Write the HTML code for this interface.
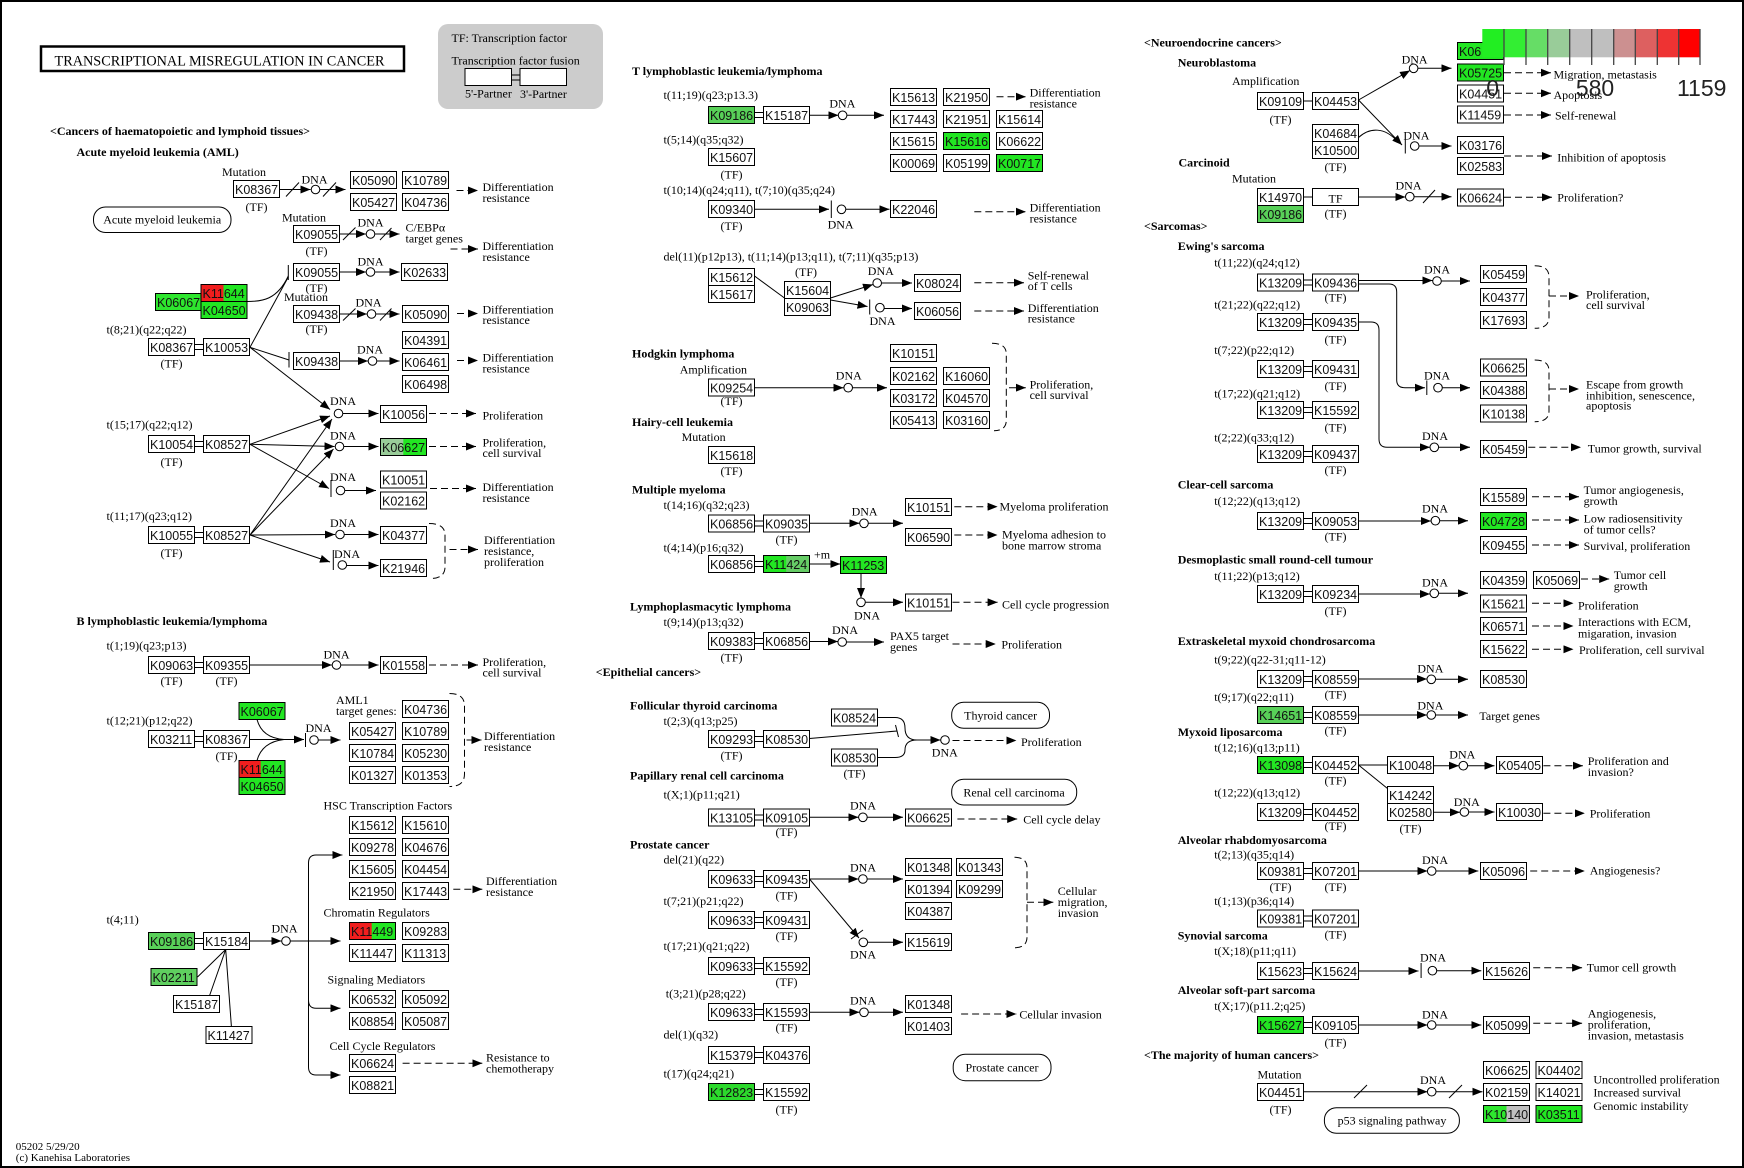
<!DOCTYPE html>
<html><head><meta charset="utf-8"><style>
html,body{margin:0;padding:0;background:#fff}
svg{display:block}
.l{stroke:#000;stroke-width:1;fill:none}
.d{stroke:#000;stroke-width:1;fill:none;stroke-dasharray:7 4}
.b{fill:#fff;stroke:#000;stroke-width:1}
.k{font-family:"Liberation Sans",sans-serif;font-size:12.5px;fill:#111}
.t{font-family:"Liberation Serif",serif;font-size:12px;fill:#000}
.h{font-family:"Liberation Serif",serif;font-size:12px;font-weight:bold;fill:#000}
.c{text-anchor:middle}
circle{fill:#fff;stroke:#000;stroke-width:1}
</style></head><body>
<svg width="1744" height="1168" viewBox="0 0 1744 1168" xmlns="http://www.w3.org/2000/svg">
<defs><marker id="a" viewBox="0 0 10 8" refX="10" refY="4" markerWidth="10" markerHeight="8" markerUnits="userSpaceOnUse" orient="auto"><path d="M0,0L10,4L0,8z" fill="#000"/></marker></defs>
<rect x="1" y="1" width="1742" height="1166" fill="none" stroke="#000" stroke-width="2"/>

<!-- Title & legend -->
<rect x="41" y="46.5" width="363" height="24.5" fill="none" stroke="#000" stroke-width="2.5"/>
<text x="54.5" y="65.5" style="font-family:'Liberation Serif',serif;font-size:15px" textLength="330" lengthAdjust="spacingAndGlyphs">TRANSCRIPTIONAL MISREGULATION  IN  CANCER</text>
<rect x="438" y="24" width="165" height="85" rx="10" fill="#cccccc"/>
<text class="t" x="451.5" y="42">TF: Transcription factor</text>
<text class="t" x="451.5" y="64.5">Transcription factor fusion</text>
<rect class="b" x="465" y="68.5" width="46.5" height="17"/><rect class="b" x="520" y="68.5" width="46.5" height="17"/>
<path class="l" d="M511.5,75h8.5M511.5,80h8.5"/>
<text class="t" x="465" y="97.5">5'-Partner</text><text class="t" x="520" y="98">3'-Partner</text>

<!-- Left headers -->
<text class="h" x="50" y="135">&lt;Cancers of haematopoietic and lymphoid tissues&gt;</text>
<text class="h" x="76.5" y="156">Acute myeloid leukemia (AML)</text>

<!-- AML -->
<text class="t" x="222" y="176">Mutation</text>
<rect class="b" x="233.5" y="180.5" width="46" height="17"/><text class="k" x="235" y="194">K08367</text>
<text class="t c" x="256.5" y="211">(TF)</text>
<path class="l" d="M279.5,189.5L310.5,189.5" marker-end="url(#a)"/><path class="l" d="M286,196.5L299,182.5"/>
<circle cx="315.5" cy="189.5" r="4.3"/><text class="t" x="301.5" y="183.5">DNA</text>
<path class="l" d="M320,189.5L345.5,189.5" marker-end="url(#a)"/><path class="l" d="M323,196.5L336,182.5"/>
<rect class="b" x="350.5" y="171.5" width="46" height="17"/><text class="k" x="352" y="185">K05090</text>
<rect class="b" x="402.5" y="171.5" width="46" height="17"/><text class="k" x="404" y="185">K10789</text>
<rect class="b" x="350.5" y="193.5" width="46" height="17"/><text class="k" x="352" y="207">K05427</text>
<rect class="b" x="402.5" y="193.5" width="46" height="17"/><text class="k" x="404" y="207">K04736</text>
<path class="d" d="M456.5,190.5L478,190.5" marker-end="url(#a)"/>
<text class="t" x="482.5" y="191">Differentiation</text><text class="t" x="482.5" y="202">resistance</text>

<rect x="93.5" y="207" width="137.5" height="25.5" rx="12" fill="#fff" stroke="#000"/>
<text class="t c" x="162.2" y="223.5">Acute myeloid leukemia</text>

<text class="t" x="282" y="221.5">Mutation</text>
<rect class="b" x="293.5" y="225.5" width="46" height="17"/><text class="k" x="295" y="239">K09055</text>
<text class="t c" x="316.5" y="255">(TF)</text>
<path class="l" d="M339.5,234L366,234" marker-end="url(#a)"/><path class="l" d="M343,240L355.5,227.5"/>
<circle cx="370.5" cy="234" r="4.3"/><text class="t" x="357.5" y="226.5">DNA</text>
<path class="l" d="M375,234L399.5,234" marker-end="url(#a)"/><path class="l" d="M380,240L391.5,228"/>
<text class="t" x="405.5" y="231.5">C/EBPα</text><text class="t" x="405.5" y="242.5">target genes</text>
<path class="d" d="M450.5,249L478,249" marker-end="url(#a)"/>
<text class="t" x="482.5" y="250">Differentiation</text><text class="t" x="482.5" y="261">resistance</text>

<path class="l" d="M288.3,265V280"/>
<rect class="b" x="293.5" y="263.5" width="46" height="17"/><text class="k" x="295" y="277">K09055</text>
<text class="t c" x="316.5" y="292">(TF)</text>
<path class="l" d="M339.5,272L366,272" marker-end="url(#a)"/>
<circle cx="370.5" cy="272" r="4.3"/><text class="t" x="357.5" y="265.5">DNA</text>
<path class="l" d="M375,272L399.5,272" marker-end="url(#a)"/>
<rect class="b" x="401.5" y="263.5" width="46" height="17"/><text class="k" x="403" y="277">K02633</text>

<rect class="b" x="155.5" y="293.5" width="45.5" height="17" style="fill:#2ee62e"/><text class="k" x="157" y="307">K06067</text>
<rect class="b" x="201" y="284.5" width="46" height="17" style="fill:#22e622"/><rect x="201.5" y="285" width="22" height="16" fill="#f01e1e"/><text class="k" x="202.5" y="298">K11644</text>
<rect class="b" x="201" y="301.5" width="46" height="17" style="fill:#22e622"/><text class="k" x="202.5" y="315">K04650</text>
<path class="l" d="M247.3,301.5C262,301.5 277,300 288.3,276"/>
<path class="l" d="M250,347.3L288.3,277"/>

<text class="t" x="284" y="301">Mutation</text>
<rect class="b" x="293.5" y="305.5" width="46" height="17"/><text class="k" x="295" y="319">K09438</text>
<text class="t c" x="316.5" y="333">(TF)</text>
<path class="l" d="M339.5,314L367,314" marker-end="url(#a)"/><path class="l" d="M343,320.5L355.5,308.5"/>
<circle cx="371.5" cy="314" r="4.3"/><text class="t" x="355.5" y="306.5">DNA</text>
<path class="l" d="M376,314L399.5,314" marker-end="url(#a)"/><path class="l" d="M380,320.5L391.5,308.5"/>
<rect class="b" x="402.5" y="305.5" width="46" height="17"/><text class="k" x="404" y="319">K05090</text>
<path class="d" d="M457,313.5L478,313.5" marker-end="url(#a)"/>
<text class="t" x="482.5" y="313.5">Differentiation</text><text class="t" x="482.5" y="324">resistance</text>

<text class="t" x="106.5" y="333.5">t(8;21)(q22;q22)</text>
<rect class="b" x="148.5" y="338.5" width="46" height="17"/><text class="k" x="150" y="352">K08367</text>
<rect class="b" x="203.5" y="338.5" width="46" height="17"/><text class="k" x="205" y="352">K10053</text>
<path class="l" d="M194.5,344.5h9M194.5,349.5h9"/>
<text class="t c" x="171.5" y="367.5">(TF)</text>
<path class="l" d="M289,352V367.5"/><path class="l" d="M250,347.3L289,360"/>
<rect class="b" x="293.5" y="352.5" width="46" height="17"/><text class="k" x="295" y="366">K09438</text>
<path class="l" d="M339.5,361L368,361" marker-end="url(#a)"/>
<circle cx="372.5" cy="361" r="4.3"/><text class="t" x="357" y="353.5">DNA</text>
<path class="l" d="M377,361L399.5,361" marker-end="url(#a)"/>
<rect class="b" x="402.5" y="331.5" width="46" height="17"/><text class="k" x="404" y="345">K04391</text>
<rect class="b" x="402.5" y="353.5" width="46" height="17"/><text class="k" x="404" y="367">K06461</text>
<rect class="b" x="402.5" y="375.5" width="46" height="17"/><text class="k" x="404" y="389">K06498</text>
<path class="d" d="M457,360.5L478,360.5" marker-end="url(#a)"/>
<text class="t" x="482.5" y="361.5">Differentiation</text><text class="t" x="482.5" y="372.5">resistance</text>

<!-- fan -->
<path class="l" d="M250,347.3L330,409.5" marker-end="url(#a)"/>
<path class="l" d="M250,444.3L330,416" marker-end="url(#a)"/>
<path class="l" d="M250,444.3L334.5,446.5" marker-end="url(#a)"/>
<path class="l" d="M250,444.3L329,488.5" marker-end="url(#a)"/>
<path class="l" d="M331,480V497"/>
<path class="l" d="M250,535L332,419" marker-end="url(#a)"/>
<path class="l" d="M250,535L333.5,449" marker-end="url(#a)"/>
<path class="l" d="M250,535L335,534.5" marker-end="url(#a)"/>
<path class="l" d="M250,535L330,562" marker-end="url(#a)"/>
<path class="l" d="M333.3,550V570"/>
<circle cx="338.5" cy="413.5" r="4.3"/><text class="t" x="330" y="405">DNA</text>
<circle cx="339.5" cy="446.5" r="4.3"/><text class="t" x="330" y="439.5">DNA</text>
<circle cx="340.5" cy="490.5" r="4.3"/><text class="t" x="330" y="481">DNA</text>
<circle cx="340" cy="534.5" r="4.3"/><text class="t" x="330" y="527">DNA</text>
<circle cx="342.3" cy="565" r="4.3"/><text class="t" x="334" y="558">DNA</text>
<path class="l" d="M343,413.5L378.5,413.5" marker-end="url(#a)"/>
<path class="l" d="M344,446.5L378.5,446.5" marker-end="url(#a)"/>
<path class="l" d="M345,490.5L376,490.5" marker-end="url(#a)"/>
<path class="l" d="M344.5,534.5L378.5,534.5" marker-end="url(#a)"/>
<path class="l" d="M347,565.5L378.5,565.5" marker-end="url(#a)"/>
<rect class="b" x="380.5" y="405.5" width="46" height="17"/><text class="k" x="382" y="419">K10056</text>
<rect class="b" x="380.5" y="438.5" width="46" height="17" style="fill:#22e622"/><rect x="381" y="439" width="22.3" height="16" fill="#99cc99"/><text class="k" x="382" y="452">K06627</text>
<rect class="b" x="380.5" y="471" width="46" height="17"/><text class="k" x="382" y="484.5">K10051</text>
<rect class="b" x="380.5" y="492" width="46" height="17"/><text class="k" x="382" y="505.5">K02162</text>
<rect class="b" x="380.5" y="526.5" width="46" height="17"/><text class="k" x="382" y="540">K04377</text>
<rect class="b" x="380.5" y="559.5" width="46" height="17"/><text class="k" x="382" y="573">K21946</text>
<path class="d" d="M429,413.5L476,413.5" marker-end="url(#a)"/>
<text class="t" x="482.5" y="419.5">Proliferation</text>
<path class="d" d="M429,446.5L476,446.5" marker-end="url(#a)"/>
<text class="t" x="482.5" y="446.5">Proliferation,</text><text class="t" x="482.5" y="457">cell survival</text>
<path class="d" d="M430,488.5L476,488.5" marker-end="url(#a)"/>
<text class="t" x="482.5" y="491">Differentiation</text><text class="t" x="482.5" y="502">resistance</text>
<path class="d" d="M429,523.5Q445,523.5 445,535V567Q445,578.5 430,578.5"/>
<path class="d" d="M449.5,549.5L478,549.5" marker-end="url(#a)"/>
<text class="t" x="484" y="544">Differentiation</text><text class="t" x="484" y="555">resistance,</text><text class="t" x="484" y="566">proliferation</text>

<text class="t" x="106.5" y="428.5">t(15;17)(q22;q12)</text>
<rect class="b" x="148.5" y="435.5" width="46" height="17"/><text class="k" x="150" y="449">K10054</text>
<rect class="b" x="203.5" y="435.5" width="46" height="17"/><text class="k" x="205" y="449">K08527</text>
<path class="l" d="M194.5,441.5h9M194.5,446.5h9"/>
<text class="t c" x="171.5" y="466">(TF)</text>
<text class="t" x="106.5" y="520">t(11;17)(q23;q12)</text>
<rect class="b" x="148.5" y="526.5" width="46" height="17"/><text class="k" x="150" y="540">K10055</text>
<rect class="b" x="203.5" y="526.5" width="46" height="17"/><text class="k" x="205" y="540">K08527</text>
<path class="l" d="M194.5,532.5h9M194.5,537.5h9"/>
<text class="t c" x="171.5" y="557">(TF)</text>

<!-- B lymphoblastic -->
<text class="h" x="76.5" y="625">B lymphoblastic leukemia/lymphoma</text>
<text class="t" x="106.5" y="649.5">t(1;19)(q23;p13)</text>
<rect class="b" x="148.5" y="656.5" width="46" height="17"/><text class="k" x="150" y="670">K09063</text>
<rect class="b" x="203.5" y="656.5" width="46" height="17"/><text class="k" x="205" y="670">K09355</text>
<path class="l" d="M194.5,662.5h9M194.5,667.5h9"/>
<text class="t c" x="171.5" y="685">(TF)</text><text class="t c" x="226.5" y="685">(TF)</text>
<path class="l" d="M249.5,665L332,665" marker-end="url(#a)"/>
<circle cx="336.5" cy="665" r="4.3"/><text class="t" x="323.5" y="658.5">DNA</text>
<path class="l" d="M341,665L378.5,665" marker-end="url(#a)"/>
<rect class="b" x="380.5" y="656.5" width="46" height="17"/><text class="k" x="382" y="670">K01558</text>
<path class="d" d="M429,665L478,665" marker-end="url(#a)"/>
<text class="t" x="482.5" y="666">Proliferation,</text><text class="t" x="482.5" y="676.5">cell survival</text>

<text class="t" x="106.5" y="724.5">t(12;21)(p12;q22)</text>
<rect class="b" x="148.5" y="730.5" width="46" height="17"/><text class="k" x="150" y="744">K03211</text>
<rect class="b" x="203.5" y="730.5" width="46" height="17"/><text class="k" x="205" y="744">K08367</text>
<path class="l" d="M194.5,736.5h9M194.5,741.5h9"/>
<text class="t c" x="226.5" y="760">(TF)</text>
<rect class="b" x="239" y="702.5" width="46" height="17" style="fill:#22e622"/><text class="k" x="240.5" y="716">K06067</text>
<rect class="b" x="239" y="760.5" width="46" height="17" style="fill:#22e622"/><rect x="239.5" y="761" width="21.2" height="16" fill="#f01e1e"/><text class="k" x="240.5" y="774">K11644</text>
<rect class="b" x="239" y="777.5" width="46" height="17" style="fill:#22e622"/><text class="k" x="240.5" y="791">K04650</text>
<path class="l" d="M257,719.5Q262,738 284,739.5M257,760.5Q262,742 284,739.5"/>
<path class="l" d="M249.5,739.5L304,739.5" marker-end="url(#a)"/>
<path class="l" d="M305.5,733V747"/>
<circle cx="314" cy="740" r="4.3"/><text class="t" x="305.5" y="732">DNA</text>
<path class="l" d="M318.5,740L340.5,740" marker-end="url(#a)"/>
<text class="t" x="336" y="704">AML1</text><text class="t" x="336" y="715">target genes:</text>
<rect class="b" x="402.5" y="700.5" width="46" height="17"/><text class="k" x="404" y="714">K04736</text>
<rect class="b" x="349.5" y="722.5" width="46" height="17"/><text class="k" x="351" y="736">K05427</text>
<rect class="b" x="402.5" y="722.5" width="46" height="17"/><text class="k" x="404" y="736">K10789</text>
<rect class="b" x="349.5" y="744.5" width="46" height="17"/><text class="k" x="351" y="758">K10784</text>
<rect class="b" x="402.5" y="744.5" width="46" height="17"/><text class="k" x="404" y="758">K05230</text>
<rect class="b" x="349.5" y="766.5" width="46" height="17"/><text class="k" x="351" y="780">K01327</text>
<rect class="b" x="402.5" y="766.5" width="46" height="17"/><text class="k" x="404" y="780">K01353</text>
<path class="d" d="M449.5,693.5Q464.5,693.5 464.5,706V774Q464.5,786.5 449.5,786.5"/>
<path class="l" d="M466.5,740L481.5,740" marker-end="url(#a)"/>
<text class="t" x="484" y="740">Differentiation</text><text class="t" x="484" y="751">resistance</text>

<!-- t(4;11) -->
<text class="t" x="323.5" y="809.5">HSC Transcription Factors</text>
<rect class="b" x="349.5" y="816.5" width="46" height="17"/><text class="k" x="351" y="830">K15612</text>
<rect class="b" x="402.5" y="816.5" width="46" height="17"/><text class="k" x="404" y="830">K15610</text>
<rect class="b" x="349.5" y="838.5" width="46" height="17"/><text class="k" x="351" y="852">K09278</text>
<rect class="b" x="402.5" y="838.5" width="46" height="17"/><text class="k" x="404" y="852">K04676</text>
<rect class="b" x="349.5" y="860.5" width="46" height="17"/><text class="k" x="351" y="874">K15605</text>
<rect class="b" x="402.5" y="860.5" width="46" height="17"/><text class="k" x="404" y="874">K04454</text>
<rect class="b" x="349.5" y="882.5" width="46" height="17"/><text class="k" x="351" y="896">K21950</text>
<rect class="b" x="402.5" y="882.5" width="46" height="17"/><text class="k" x="404" y="896">K17443</text>
<path class="d" d="M453.3,889.3L482.3,889.3" marker-end="url(#a)"/>
<text class="t" x="486" y="885">Differentiation</text><text class="t" x="486" y="896">resistance</text>
<text class="t" x="323.5" y="916.5">Chromatin Regulators</text>
<rect class="b" x="349.5" y="922.5" width="46" height="17" style="fill:#22e622"/><rect x="350" y="923" width="21.7" height="16" fill="#f01e1e"/><text class="k" x="351" y="936">K11449</text>
<rect class="b" x="402.5" y="922.5" width="46" height="17"/><text class="k" x="404" y="936">K09283</text>
<rect class="b" x="349.5" y="944.5" width="46" height="17"/><text class="k" x="351" y="958">K11447</text>
<rect class="b" x="402.5" y="944.5" width="46" height="17"/><text class="k" x="404" y="958">K11313</text>
<text class="t" x="327.5" y="983.5">Signaling Mediators</text>
<rect class="b" x="349.5" y="990.5" width="46" height="17"/><text class="k" x="351" y="1004">K06532</text>
<rect class="b" x="402.5" y="990.5" width="46" height="17"/><text class="k" x="404" y="1004">K05092</text>
<rect class="b" x="349.5" y="1012.5" width="46" height="17"/><text class="k" x="351" y="1026">K08854</text>
<rect class="b" x="402.5" y="1012.5" width="46" height="17"/><text class="k" x="404" y="1026">K05087</text>
<text class="t" x="329.5" y="1050">Cell Cycle Regulators</text>
<rect class="b" x="349.5" y="1054.5" width="46" height="17"/><text class="k" x="351" y="1068">K06624</text>
<rect class="b" x="349.5" y="1076.5" width="46" height="17"/><text class="k" x="351" y="1090">K08821</text>
<path class="d" d="M402.6,1063.3L482.3,1063.3" marker-end="url(#a)"/>
<text class="t" x="486" y="1061.5">Resistance to</text><text class="t" x="486" y="1072.5">chemotherapy</text>

<text class="t" x="106.5" y="923.5">t(4;11)</text>
<rect class="b" x="148.5" y="932.5" width="46" height="17" style="fill:#58d058"/><text class="k" x="150" y="946">K09186</text>
<rect class="b" x="203.5" y="932.5" width="46" height="17"/><text class="k" x="205" y="946">K15184</text>
<path class="l" d="M194.5,938.5h9M194.5,943.5h9"/>
<path class="l" d="M249.5,941L281.5,941" marker-end="url(#a)"/>
<circle cx="286" cy="941" r="4.3"/><text class="t" x="271.5" y="932.5">DNA</text>
<path class="l" d="M290.5,941L340.5,941" marker-end="url(#a)"/>
<path class="l" d="M308.5,941V863Q308.5,855 316,855L342.4,855" marker-end="url(#a)"/>
<path class="l" d="M308.5,941V1067Q308.5,1075 316,1075L340.5,1075" marker-end="url(#a)"/>
<path class="l" d="M308.5,1000Q308.5,1008.3 316,1008.3L340.5,1008.3" marker-end="url(#a)"/>
<rect class="b" x="151" y="968.5" width="46" height="17" style="fill:#5fcf5f"/><text class="k" x="152.5" y="982">K02211</text>
<rect class="b" x="173.5" y="995.5" width="46" height="17"/><text class="k" x="175" y="1009">K15187</text>
<rect class="b" x="206" y="1026.5" width="46" height="17"/><text class="k" x="207.5" y="1040">K11427</text>
<path class="l" d="M225.7,949.5L197.5,977M225.7,949.5L209.6,995.5M225.7,949.5L231.4,1026.5"/>

<text class="t" x="15.8" y="1150" style="font-size:11px">05202 5/29/20</text>
<text class="t" x="15.8" y="1161" style="font-size:11px">(c) Kanehisa Laboratories</text>

<!-- MIDDLE -->
<text class="h" x="632" y="75">T lymphoblastic leukemia/lymphoma</text>
<text class="t" x="663.5" y="99">t(11;19)(q23;p13.3)</text>
<rect class="b" x="708.5" y="106.5" width="46" height="17" style="fill:#58d058"/><text class="k" x="710" y="120">K09186</text>
<rect class="b" x="763.5" y="106.5" width="46" height="17"/><text class="k" x="765" y="120">K15187</text>
<path class="l" d="M754.5,112.5h9M754.5,117.5h9"/>
<path class="l" d="M809.5,115.3L838.5,115.3" marker-end="url(#a)"/>
<circle cx="842.6" cy="115.3" r="4.3"/><text class="t" x="829.4" y="107.5">DNA</text>
<path class="l" d="M847,115.3L884,115.3" marker-end="url(#a)"/>
<rect class="b" x="890.5" y="88.5" width="46" height="17"/><text class="k" x="892" y="102">K15613</text>
<rect class="b" x="943.5" y="88.5" width="46" height="17"/><text class="k" x="945" y="102">K21950</text>
<rect class="b" x="890.5" y="110.5" width="46" height="17"/><text class="k" x="892" y="124">K17443</text>
<rect class="b" x="943.5" y="110.5" width="46" height="17"/><text class="k" x="945" y="124">K21951</text>
<rect class="b" x="996.5" y="110.5" width="46" height="17"/><text class="k" x="998" y="124">K15614</text>
<rect class="b" x="890.5" y="132.5" width="46" height="17"/><text class="k" x="892" y="146">K15615</text>
<rect class="b" x="943.5" y="132.5" width="46" height="17" style="fill:#22e622"/><text class="k" x="945" y="146">K15616</text>
<rect class="b" x="996.5" y="132.5" width="46" height="17"/><text class="k" x="998" y="146">K06622</text>
<rect class="b" x="890.5" y="154.5" width="46" height="17"/><text class="k" x="892" y="168">K00069</text>
<rect class="b" x="943.5" y="154.5" width="46" height="17"/><text class="k" x="945" y="168">K05199</text>
<rect class="b" x="996.5" y="154.5" width="46" height="17" style="fill:#22e622"/><text class="k" x="998" y="168">K00717</text>
<path class="d" d="M996.5,96.7L1025.8,96.7" marker-end="url(#a)"/>
<text class="t" x="1029.6" y="96.7">Differentiation</text><text class="t" x="1029.6" y="107.5">resistance</text>

<text class="t" x="663.5" y="143.5">t(5;14)(q35;q32)</text>
<rect class="b" x="708.5" y="148.5" width="46" height="17"/><text class="k" x="710" y="162">K15607</text>
<text class="t c" x="731.5" y="178.5">(TF)</text>

<text class="t" x="663.5" y="194">t(10;14)(q24;q11), t(7;10)(q35;q24)</text>
<rect class="b" x="708.5" y="200.5" width="46" height="17"/><text class="k" x="710" y="214">K09340</text>
<text class="t c" x="731.5" y="230">(TF)</text>
<path class="l" d="M754.5,209.3L829,209.3" marker-end="url(#a)"/>
<path class="l" d="M831.3,200.5V218"/>
<circle cx="841.5" cy="209.3" r="4.3"/><text class="t" x="827.6" y="228.5">DNA</text>
<path class="l" d="M846,209.3L889.5,209.3" marker-end="url(#a)"/>
<rect class="b" x="890.5" y="200.5" width="46" height="17"/><text class="k" x="892" y="214">K22046</text>
<path class="d" d="M974.3,211.7L1025.8,211.7" marker-end="url(#a)"/>
<text class="t" x="1029.6" y="211.7">Differentiation</text><text class="t" x="1029.6" y="222.7">resistance</text>

<text class="t" x="663.5" y="260.7">del(11)(p12p13), t(11;14)(p13;q11), t(7;11)(q35;p13)</text>
<rect class="b" x="708.5" y="268.5" width="46" height="17"/><text class="k" x="710" y="282">K15612</text>
<rect class="b" x="708.5" y="285.5" width="46" height="17"/><text class="k" x="710" y="299">K15617</text>
<text class="t c" x="806" y="276">(TF)</text>
<rect class="b" x="784.5" y="281.5" width="46" height="17"/><text class="k" x="786" y="295">K15604</text>
<rect class="b" x="784.5" y="298.5" width="46" height="17"/><text class="k" x="786" y="312">K09063</text>
<path class="l" d="M754.5,276L784.5,298"/>
<path class="l" d="M830.5,298L873,284.5" marker-end="url(#a)"/>
<circle cx="877.2" cy="283" r="4.3"/><text class="t" x="867.8" y="275">DNA</text>
<path class="l" d="M881.5,283L912,283" marker-end="url(#a)"/>
<path class="l" d="M830.5,300L867.5,306.5" marker-end="url(#a)"/>
<path class="l" d="M869.7,299.5V314.5"/>
<circle cx="879.9" cy="307.7" r="4.3"/><text class="t" x="869.5" y="325">DNA</text>
<path class="l" d="M884.3,308.5L912,308.5" marker-end="url(#a)"/>
<rect class="b" x="914.5" y="274.5" width="46" height="17"/><text class="k" x="916" y="288">K08024</text>
<rect class="b" x="914.5" y="302.5" width="46" height="17"/><text class="k" x="916" y="316">K06056</text>
<path class="d" d="M974.3,282.7L1024,282.7" marker-end="url(#a)"/>
<text class="t" x="1027.7" y="279.5">Self-renewal</text><text class="t" x="1027.7" y="290">of T cells</text>
<path class="d" d="M974.3,311L1024,311" marker-end="url(#a)"/>
<text class="t" x="1027.7" y="312">Differentiation</text><text class="t" x="1027.7" y="322.5">resistance</text>

<text class="h" x="632" y="357.5">Hodgkin lymphoma</text>
<text class="t" x="679.7" y="373.5">Amplification</text>
<rect class="b" x="708.5" y="379" width="46" height="17"/><text class="k" x="710" y="392.5">K09254</text>
<text class="t c" x="731.5" y="405">(TF)</text>
<path class="l" d="M754.5,387.7L843.5,387.7" marker-end="url(#a)"/>
<circle cx="848.2" cy="387.7" r="4.3"/><text class="t" x="835.8" y="379.5">DNA</text>
<path class="l" d="M852.5,387.7L887,387.7" marker-end="url(#a)"/>
<rect class="b" x="890.5" y="344.5" width="46" height="17"/><text class="k" x="892" y="358">K10151</text>
<rect class="b" x="890.5" y="367.5" width="46" height="17"/><text class="k" x="892" y="381">K02162</text>
<rect class="b" x="943.5" y="367.5" width="46" height="17"/><text class="k" x="945" y="381">K16060</text>
<rect class="b" x="890.5" y="389.5" width="46" height="17"/><text class="k" x="892" y="403">K03172</text>
<rect class="b" x="943.5" y="389.5" width="46" height="17"/><text class="k" x="945" y="403">K04570</text>
<rect class="b" x="890.5" y="411.5" width="46" height="17"/><text class="k" x="892" y="425">K05413</text>
<rect class="b" x="943.5" y="411.5" width="46" height="17"/><text class="k" x="945" y="425">K03160</text>
<path class="d" d="M992,343.3Q1006.3,343.3 1006.3,354V420Q1006.3,430.7 994,430.7"/>
<path class="l" d="M1009,387.7L1025.8,387.7" marker-end="url(#a)"/>
<text class="t" x="1029.6" y="388.5">Proliferation,</text><text class="t" x="1029.6" y="399">cell survival</text>

<text class="h" x="632" y="426">Hairy-cell leukemia</text>
<text class="t" x="681.6" y="441">Mutation</text>
<rect class="b" x="708.5" y="446.5" width="46" height="17"/><text class="k" x="710" y="460">K15618</text>
<text class="t c" x="731.5" y="475">(TF)</text>

<text class="h" x="632" y="493.5">Multiple myeloma</text>
<text class="t" x="663.5" y="509">t(14;16)(q32;q23)</text>
<rect class="b" x="708.5" y="515" width="46" height="17"/><text class="k" x="710" y="528.5">K06856</text>
<rect class="b" x="763.5" y="515" width="46" height="17"/><text class="k" x="765" y="528.5">K09035</text>
<path class="l" d="M754.5,521h9M754.5,526h9"/>
<text class="t c" x="786.5" y="543.5">(TF)</text>
<path class="l" d="M809.5,523.3L859.5,523.3" marker-end="url(#a)"/>
<circle cx="864" cy="523.3" r="4.3"/><text class="t" x="851.6" y="515.7">DNA</text>
<path class="l" d="M868.5,523.3L903,523.3" marker-end="url(#a)"/>
<rect class="b" x="905.5" y="498.5" width="46" height="17"/><text class="k" x="907" y="512">K10151</text>
<rect class="b" x="905.5" y="528.5" width="46" height="17"/><text class="k" x="907" y="542">K06590</text>
<path class="d" d="M954.3,506.7L997.6,506.7" marker-end="url(#a)"/>
<text class="t" x="999.5" y="510.7">Myeloma proliferation</text>
<path class="d" d="M954.3,535L997.6,535" marker-end="url(#a)"/>
<text class="t" x="1002" y="538.5">Myeloma adhesion to</text><text class="t" x="1002" y="549.5">bone marrow stroma</text>
<text class="t" x="663.5" y="551.7">t(4;14)(p16;q32)</text>
<rect class="b" x="708.5" y="555.5" width="46" height="17"/><text class="k" x="710" y="569">K06856</text>
<rect class="b" x="763.5" y="555.5" width="46" height="17" style="fill:#66cc66"/><rect x="764" y="556" width="22.2" height="16" fill="#22e622"/><text class="k" x="765" y="569">K11424</text>
<path class="l" d="M754.5,561.5h9M754.5,566.5h9"/>
<text class="t" x="814" y="558.5">+m</text>
<path class="l" d="M809.5,564L840.3,564" marker-end="url(#a)"/>
<rect class="b" x="840.5" y="556.5" width="46" height="17" style="fill:#22e622"/><text class="k" x="842" y="570">K11253</text>
<path class="l" d="M861,573.5L861,598" marker-end="url(#a)"/>
<circle cx="861" cy="602.3" r="4.3"/><text class="t" x="854" y="619.5">DNA</text>
<path class="l" d="M865.5,602.3L903,602.3" marker-end="url(#a)"/>
<rect class="b" x="905.5" y="594" width="46" height="17"/><text class="k" x="907" y="607.5">K10151</text>
<path class="d" d="M952.5,602.3L997.6,602.3" marker-end="url(#a)"/>
<text class="t" x="1002" y="608.5">Cell cycle progression</text>

<text class="h" x="630" y="610.7">Lymphoplasmacytic lymphoma</text>
<text class="t" x="663.5" y="626">t(9;14)(p13;q32)</text>
<rect class="b" x="708.5" y="632.5" width="46" height="17"/><text class="k" x="710" y="646">K09383</text>
<rect class="b" x="763.5" y="632.5" width="46" height="17"/><text class="k" x="765" y="646">K06856</text>
<path class="l" d="M754.5,638.5h9M754.5,643.5h9"/>
<text class="t c" x="731.5" y="661.7">(TF)</text>
<path class="l" d="M809.5,641.5L838,641.5" marker-end="url(#a)"/>
<circle cx="842.2" cy="642" r="4.3"/><text class="t" x="832" y="634">DNA</text>
<path class="l" d="M846.5,642L884,642" marker-end="url(#a)"/>
<text class="t" x="890" y="640">PAX5 target</text><text class="t" x="890" y="651">genes</text>
<path class="d" d="M952.5,644L995.7,644" marker-end="url(#a)"/>
<text class="t" x="1001.4" y="648.5">Proliferation</text>

<text class="h" x="595.8" y="676">&lt;Epithelial cancers&gt;</text>
<text class="h" x="630" y="709.5">Follicular thyroid carcinoma</text>
<text class="t" x="663.5" y="725">t(2;3)(q13;p25)</text>
<rect class="b" x="708.5" y="730.5" width="46" height="17"/><text class="k" x="710" y="744">K09293</text>
<rect class="b" x="763.5" y="730.5" width="46" height="17"/><text class="k" x="765" y="744">K08530</text>
<path class="l" d="M754.5,736.5h9M754.5,741.5h9"/>
<text class="t c" x="731.5" y="759.5">(TF)</text>
<rect class="b" x="831.5" y="709" width="46" height="17"/><text class="k" x="833" y="722.5">K08524</text>
<rect class="b" x="831.5" y="749" width="46" height="17"/><text class="k" x="833" y="762.5">K08530</text>
<text class="t c" x="854.5" y="777.5">(TF)</text>
<path class="l" d="M809.5,738.5L897,731M895.5,725L898.5,737"/>
<path class="l" d="M877.5,717.5H895Q905,717.5 905,728Q905,740 917,740M877.5,757.5H895Q905,757.5 905,750Q905,740 917,740"/>
<path class="l" d="M917,740L940.5,740" marker-end="url(#a)"/>
<circle cx="945" cy="740" r="4.3"/><text class="t" x="931.8" y="756.7">DNA</text>
<path class="d" d="M952.5,740.5L1016.4,740.5" marker-end="url(#a)"/>
<text class="t" x="1021" y="746">Proliferation</text>
<rect x="951.7" y="702.3" width="97.8" height="26" rx="12" fill="#fff" stroke="#000"/>
<text class="t c" x="1000.6" y="719.5">Thyroid cancer</text>

<text class="h" x="630" y="779.3">Papillary renal cell carcinoma</text>
<rect x="951.7" y="779.3" width="125" height="25.7" rx="12" fill="#fff" stroke="#000"/>
<text class="t c" x="1014" y="796.5">Renal cell carcinoma</text>
<text class="t" x="663.5" y="798.3">t(X;1)(p11;q21)</text>
<rect class="b" x="708.5" y="809" width="46" height="17"/><text class="k" x="710" y="822.5">K13105</text>
<rect class="b" x="763.5" y="809" width="46" height="17"/><text class="k" x="765" y="822.5">K09105</text>
<path class="l" d="M754.5,815h9M754.5,820h9"/>
<text class="t c" x="786.5" y="836">(TF)</text>
<path class="l" d="M809.5,817.3L858.5,817.3" marker-end="url(#a)"/>
<circle cx="862.9" cy="817.3" r="4.3"/><text class="t" x="850" y="809.3">DNA</text>
<path class="l" d="M867.5,817.3L903,817.3" marker-end="url(#a)"/>
<rect class="b" x="905.5" y="809" width="46" height="17"/><text class="k" x="907" y="822.5">K06625</text>
<path class="d" d="M957.4,819L1017.2,819" marker-end="url(#a)"/>
<text class="t" x="1023.2" y="823.5">Cell cycle delay</text>

<text class="h" x="630" y="848.3">Prostate cancer</text>
<text class="t" x="663.5" y="863.3">del(21)(q22)</text>
<rect class="b" x="708.5" y="870.5" width="46" height="17"/><text class="k" x="710" y="884">K09633</text>
<rect class="b" x="763.5" y="870.5" width="46" height="17"/><text class="k" x="765" y="884">K09435</text>
<path class="l" d="M754.5,876.5h9M754.5,881.5h9"/>
<text class="t c" x="786.5" y="899.3">(TF)</text>
<path class="l" d="M809.5,879L858.5,879" marker-end="url(#a)"/>
<circle cx="862.9" cy="879" r="4.3"/><text class="t" x="850" y="871.7">DNA</text>
<path class="l" d="M867.5,879L903,879" marker-end="url(#a)"/>
<path class="l" d="M809.5,879L859,938" marker-end="url(#a)"/>
<path class="l" d="M851,939L863,930"/>
<circle cx="863.3" cy="942.3" r="4.3"/><text class="t" x="850" y="958.5">DNA</text>
<path class="l" d="M867.8,942.3L903,942.3" marker-end="url(#a)"/>
<rect class="b" x="905.5" y="858.5" width="46" height="17"/><text class="k" x="907" y="872">K01348</text>
<rect class="b" x="956.5" y="858.5" width="46" height="17"/><text class="k" x="958" y="872">K01343</text>
<rect class="b" x="905.5" y="880.5" width="46" height="17"/><text class="k" x="907" y="894">K01394</text>
<rect class="b" x="956.5" y="880.5" width="46" height="17"/><text class="k" x="958" y="894">K09299</text>
<rect class="b" x="905.5" y="902.5" width="46" height="17"/><text class="k" x="907" y="916">K04387</text>
<rect class="b" x="905.5" y="933.5" width="46" height="17"/><text class="k" x="907" y="947">K15619</text>
<path class="d" d="M1014.5,857.3Q1027,857.3 1027,868V937Q1027,947.7 1014.5,947.7"/>
<path class="d" d="M1027,902.3L1053.3,902.3" marker-end="url(#a)"/>
<text class="t" x="1057.8" y="895">Cellular</text><text class="t" x="1057.8" y="906">migration,</text><text class="t" x="1057.8" y="917">invasion</text>

<text class="t" x="663.5" y="905">t(7;21)(p21;q22)</text>
<rect class="b" x="708.5" y="911.5" width="46" height="17"/><text class="k" x="710" y="925">K09633</text>
<rect class="b" x="763.5" y="911.5" width="46" height="17"/><text class="k" x="765" y="925">K09431</text>
<path class="l" d="M754.5,917.5h9M754.5,922.5h9"/>
<text class="t c" x="786.5" y="940">(TF)</text>
<text class="t" x="663.5" y="950">t(17;21)(q21;q22)</text>
<rect class="b" x="708.5" y="957.5" width="46" height="17"/><text class="k" x="710" y="971">K09633</text>
<rect class="b" x="763.5" y="957.5" width="46" height="17"/><text class="k" x="765" y="971">K15592</text>
<path class="l" d="M754.5,963.5h9M754.5,968.5h9"/>
<text class="t c" x="786.5" y="986">(TF)</text>
<text class="t" x="665.8" y="997.3">t(3;21)(p28;q22)</text>
<rect class="b" x="708.5" y="1003.5" width="46" height="17"/><text class="k" x="710" y="1017">K09633</text>
<rect class="b" x="763.5" y="1003.5" width="46" height="17"/><text class="k" x="765" y="1017">K15593</text>
<path class="l" d="M754.5,1009.5h9M754.5,1014.5h9"/>
<text class="t c" x="786.5" y="1031.7">(TF)</text>
<path class="l" d="M809.5,1012.3L859.5,1012.3" marker-end="url(#a)"/>
<circle cx="864" cy="1012.3" r="4.3"/><text class="t" x="850" y="1004.3">DNA</text>
<path class="l" d="M868.5,1012.3L903,1012.3" marker-end="url(#a)"/>
<rect class="b" x="905.5" y="995.5" width="46" height="17"/><text class="k" x="907" y="1009">K01348</text>
<rect class="b" x="905.5" y="1017.5" width="46" height="17"/><text class="k" x="907" y="1031">K01403</text>
<path class="d" d="M961.1,1014L1016.4,1014" marker-end="url(#a)"/>
<text class="t" x="1019.4" y="1018.3">Cellular invasion</text>
<text class="t" x="663.5" y="1038.3">del(1)(q32)</text>
<rect class="b" x="708.5" y="1046.5" width="46" height="17"/><text class="k" x="710" y="1060">K15379</text>
<rect class="b" x="763.5" y="1046.5" width="46" height="17"/><text class="k" x="765" y="1060">K04376</text>
<path class="l" d="M754.5,1052.5h9M754.5,1057.5h9"/>
<rect x="953.2" y="1054.3" width="97.8" height="26.4" rx="12" fill="#fff" stroke="#000"/>
<text class="t c" x="1002" y="1071.5">Prostate cancer</text>
<text class="t" x="663.5" y="1077.3">t(17)(q24;q21)</text>
<rect class="b" x="708.5" y="1083.5" width="46" height="17" style="fill:#2cd92c"/><text class="k" x="710" y="1097">K12823</text>
<rect class="b" x="763.5" y="1083.5" width="46" height="17"/><text class="k" x="765" y="1097">K15592</text>
<path class="l" d="M754.5,1089.5h9M754.5,1094.5h9"/>
<text class="t c" x="786.5" y="1113.3">(TF)</text>

<!-- RIGHT -->
<text class="h" x="1144" y="46.7">&lt;Neuroendocrine cancers&gt;</text>
<text class="h" x="1177.7" y="66.7">Neuroblastoma</text>
<text class="t" x="1232" y="85">Amplification</text>
<rect class="b" x="1257.5" y="92.5" width="46" height="17"/><text class="k" x="1259" y="106">K09109</text>
<rect class="b" x="1312.5" y="92.5" width="46" height="17"/><text class="k" x="1314" y="106">K04453</text>
<path class="l" d="M1303.5,101h9"/>
<text class="t c" x="1280.5" y="123.3">(TF)</text>
<path class="l" d="M1358.5,100L1410,70.5" marker-end="url(#a)"/>
<circle cx="1413.6" cy="68.3" r="4.3"/><text class="t" x="1401.6" y="63.3">DNA</text>
<path class="l" d="M1418,68.3L1451.5,68.3" marker-end="url(#a)"/>
<path class="l" d="M1358.5,100L1402,145" marker-end="url(#a)"/>
<path class="l" d="M1405.3,139V153.5"/>
<circle cx="1414.7" cy="146" r="4.3"/><text class="t" x="1403.4" y="139.3">DNA</text>
<path class="l" d="M1419,146L1451.5,146" marker-end="url(#a)"/>
<rect class="b" x="1312.5" y="124.5" width="46" height="17"/><text class="k" x="1314" y="138">K04684</text>
<rect class="b" x="1312.5" y="141.5" width="46" height="17"/><text class="k" x="1314" y="155">K10500</text>
<text class="t c" x="1335.5" y="171">(TF)</text>
<path class="l" d="M1358.5,137.5C1370,127 1385,127 1398,142"/>
<rect class="b" x="1457.5" y="42.5" width="46" height="17" style="fill:#22e622"/><text class="k" x="1459" y="56">K06</text>
<rect class="b" x="1457.5" y="64" width="46" height="17" style="fill:#22e622"/><text class="k" x="1459" y="77.5">K05725</text>
<rect class="b" x="1457.5" y="85" width="46" height="17"/><text class="k" x="1459" y="98.5">K04451</text>
<rect class="b" x="1457.5" y="106" width="46" height="17"/><text class="k" x="1459" y="119.5">K11459</text>
<rect class="b" x="1457.5" y="136.5" width="46" height="17"/><text class="k" x="1459" y="150">K03176</text>
<rect class="b" x="1457.5" y="157.5" width="46" height="17"/><text class="k" x="1459" y="171">K02583</text>
<path class="d" d="M1504,72.7L1551,72.7" marker-end="url(#a)"/>
<text class="t" x="1553.5" y="78.3">Migration, metastasis</text>
<path class="d" d="M1504,93.3L1551,93.3" marker-end="url(#a)"/>
<text class="t" x="1553.5" y="99">Apoptosis</text>
<path class="d" d="M1504,115L1551,115" marker-end="url(#a)"/>
<text class="t" x="1555" y="119.5">Self-renewal</text>
<path class="d" d="M1504,156L1552,156" marker-end="url(#a)"/>
<text class="t" x="1557.3" y="161.7">Inhibition of apoptosis</text>

<text class="h" x="1178.5" y="166.7">Carcinoid</text>
<text class="t" x="1232" y="182.7">Mutation</text>
<rect class="b" x="1257.5" y="188.5" width="46" height="17"/><text class="k" x="1259" y="202">K14970</text>
<rect class="b" x="1257.5" y="205.5" width="46" height="17" style="fill:#58d058"/><text class="k" x="1259" y="219">K09186</text>
<rect class="b" x="1312.5" y="188.5" width="46" height="17"/><text class="t c" x="1335.5" y="202.5">TF</text>
<path class="l" d="M1303.5,197h9"/>
<text class="t c" x="1335.5" y="217.3">(TF)</text>
<path class="l" d="M1358.5,197L1405.5,197" marker-end="url(#a)"/>
<circle cx="1409.8" cy="196.7" r="4.3"/><text class="t" x="1395.5" y="189.3">DNA</text>
<path class="l" d="M1414,196.7L1451.5,196.7" marker-end="url(#a)"/>
<path class="l" d="M1423,203L1435,190"/>
<rect class="b" x="1457.5" y="189" width="46" height="17"/><text class="k" x="1459" y="202.5">K06624</text>
<path class="d" d="M1504,197.3L1552,197.3" marker-end="url(#a)"/>
<text class="t" x="1557.3" y="201.7">Proliferation?</text>

<text class="h" x="1144" y="230">&lt;Sarcomas&gt;</text>
<text class="h" x="1177.7" y="250">Ewing's sarcoma</text>
<text class="t" x="1214.2" y="266.7">t(11;22)(q24;q12)</text>
<rect class="b" x="1257.5" y="274" width="46" height="17"/><text class="k" x="1259" y="287.5">K13209</text>
<rect class="b" x="1312.5" y="274" width="46" height="17"/><text class="k" x="1314" y="287.5">K09436</text>
<path class="l" d="M1303.5,280h9M1303.5,285h9"/>
<text class="t c" x="1335.5" y="301.7">(TF)</text>
<path class="l" d="M1358.5,280.5L1432.5,280.5" marker-end="url(#a)"/>
<circle cx="1437" cy="281" r="4.3"/><text class="t" x="1424" y="273.3">DNA</text>
<path class="l" d="M1441.3,281L1470,281" marker-end="url(#a)"/>
<rect class="b" x="1480.5" y="265.5" width="46" height="17"/><text class="k" x="1482" y="279">K05459</text>
<rect class="b" x="1480.5" y="288.5" width="46" height="17"/><text class="k" x="1482" y="302">K04377</text>
<rect class="b" x="1480.5" y="311.5" width="46" height="17"/><text class="k" x="1482" y="325">K17693</text>
<path class="d" d="M1534.7,265.7Q1549,265.7 1549,277V317Q1549,328.3 1534.7,328.3"/>
<path class="d" d="M1549,296L1579,296" marker-end="url(#a)"/>
<text class="t" x="1586" y="298.5">Proliferation,</text><text class="t" x="1586" y="309">cell survival</text>
<path class="l" d="M1358.5,284H1389Q1396.7,284 1396.7,292V380Q1396.7,387.7 1405,387.7L1425,387.7" marker-end="url(#a)"/>
<path class="l" d="M1426.8,380.5V395"/>
<circle cx="1438" cy="387.7" r="4.3"/><text class="t" x="1424" y="379.3">DNA</text>
<path class="l" d="M1442.3,387.7L1470,387.7" marker-end="url(#a)"/>
<rect class="b" x="1480.5" y="359" width="46" height="17"/><text class="k" x="1482" y="372.5">K06625</text>
<rect class="b" x="1480.5" y="381.5" width="46" height="17"/><text class="k" x="1482" y="395">K04388</text>
<rect class="b" x="1480.5" y="405" width="46" height="17"/><text class="k" x="1482" y="418.5">K10138</text>
<path class="d" d="M1534.7,360Q1549,360 1549,371V411Q1549,421.7 1534.7,421.7"/>
<path class="d" d="M1549,389L1579,389" marker-end="url(#a)"/>
<text class="t" x="1586" y="388.5">Escape from growth</text><text class="t" x="1586" y="399.5">inhibition, senescence,</text><text class="t" x="1586" y="409.5">apoptosis</text>

<text class="t" x="1214.2" y="308.3">t(21;22)(q22;q12)</text>
<rect class="b" x="1257.5" y="313.5" width="46" height="17"/><text class="k" x="1259" y="327">K13209</text>
<rect class="b" x="1312.5" y="313.5" width="46" height="17"/><text class="k" x="1314" y="327">K09435</text>
<path class="l" d="M1303.5,319.5h9M1303.5,324.5h9"/>
<text class="t c" x="1335.5" y="343.3">(TF)</text>
<path class="l" d="M1358.5,322H1371Q1379,322 1379,330V439Q1379,447.3 1387,447.3L1430,447.3" marker-end="url(#a)"/>
<circle cx="1434.3" cy="447.3" r="4.3"/><text class="t" x="1422" y="440">DNA</text>
<path class="l" d="M1438.6,447.3L1470,447.3" marker-end="url(#a)"/>
<rect class="b" x="1480.5" y="440.5" width="46" height="17"/><text class="k" x="1482" y="454">K05459</text>
<path class="d" d="M1528.3,447.3L1581,447.3" marker-end="url(#a)"/>
<text class="t" x="1587.8" y="452.7">Tumor growth, survival</text>

<text class="t" x="1214.2" y="354">t(7;22)(p22;q12)</text>
<rect class="b" x="1257.5" y="360.5" width="46" height="17"/><text class="k" x="1259" y="374">K13209</text>
<rect class="b" x="1312.5" y="360.5" width="46" height="17"/><text class="k" x="1314" y="374">K09431</text>
<path class="l" d="M1303.5,366.5h9M1303.5,371.5h9"/>
<text class="t c" x="1335.5" y="390">(TF)</text>
<text class="t" x="1214.2" y="397.3">t(17;22)(q21;q12)</text>
<rect class="b" x="1257.5" y="401.5" width="46" height="17"/><text class="k" x="1259" y="415">K13209</text>
<rect class="b" x="1312.5" y="401.5" width="46" height="17"/><text class="k" x="1314" y="415">K15592</text>
<path class="l" d="M1303.5,407.5h9M1303.5,412.5h9"/>
<text class="t c" x="1335.5" y="431.7">(TF)</text>
<text class="t" x="1214.2" y="441.7">t(2;22)(q33;q12)</text>
<rect class="b" x="1257.5" y="445.5" width="46" height="17"/><text class="k" x="1259" y="459">K13209</text>
<rect class="b" x="1312.5" y="445.5" width="46" height="17"/><text class="k" x="1314" y="459">K09437</text>
<path class="l" d="M1303.5,451.5h9M1303.5,456.5h9"/>
<text class="t c" x="1335.5" y="474">(TF)</text>

<text class="h" x="1177.7" y="488.3">Clear-cell sarcoma</text>
<text class="t" x="1214.2" y="505">t(12;22)(q13;q12)</text>
<rect class="b" x="1257.5" y="512.5" width="46" height="17"/><text class="k" x="1259" y="526">K13209</text>
<rect class="b" x="1312.5" y="512.5" width="46" height="17"/><text class="k" x="1314" y="526">K09053</text>
<path class="l" d="M1303.5,518.5h9M1303.5,523.5h9"/>
<text class="t c" x="1335.5" y="540.7">(TF)</text>
<path class="l" d="M1358.5,521L1431,521" marker-end="url(#a)"/>
<circle cx="1435.4" cy="520.7" r="4.3"/><text class="t" x="1422" y="512.7">DNA</text>
<path class="l" d="M1439.7,520.7L1468,520.7" marker-end="url(#a)"/>
<rect class="b" x="1480.5" y="488.5" width="46" height="17"/><text class="k" x="1482" y="502">K15589</text>
<rect class="b" x="1480.5" y="512.5" width="46" height="17" style="fill:#22e622"/><text class="k" x="1482" y="526">K04728</text>
<rect class="b" x="1480.5" y="536.5" width="46" height="17"/><text class="k" x="1482" y="550">K09455</text>
<path class="d" d="M1532,496.7L1579,496.7" marker-end="url(#a)"/>
<text class="t" x="1583.6" y="494">Tumor angiogenesis,</text><text class="t" x="1583.6" y="505">growth</text>
<path class="d" d="M1532,520L1579,520" marker-end="url(#a)"/>
<text class="t" x="1583.6" y="522.3">Low radiosensitivity</text><text class="t" x="1583.6" y="533.3">of tumor cells?</text>
<path class="d" d="M1532,545L1579,545" marker-end="url(#a)"/>
<text class="t" x="1583.6" y="550">Survival, proliferation</text>

<text class="h" x="1177.7" y="563.3">Desmoplastic small round-cell tumour</text>
<text class="t" x="1214.2" y="580">t(11;22)(p13;q12)</text>
<rect class="b" x="1257.5" y="585.5" width="46" height="17"/><text class="k" x="1259" y="599">K13209</text>
<rect class="b" x="1312.5" y="585.5" width="46" height="17"/><text class="k" x="1314" y="599">K09234</text>
<path class="l" d="M1303.5,591.5h9M1303.5,596.5h9"/>
<text class="t c" x="1335.5" y="615">(TF)</text>
<path class="l" d="M1358.5,594L1430,594" marker-end="url(#a)"/>
<circle cx="1434.3" cy="593.3" r="4.3"/><text class="t" x="1422" y="586.7">DNA</text>
<path class="l" d="M1438.6,593.3L1468,593.3" marker-end="url(#a)"/>
<rect class="b" x="1480.5" y="571.5" width="46" height="17"/><text class="k" x="1482" y="585">K04359</text>
<rect class="b" x="1533.5" y="571.5" width="46" height="17"/><text class="k" x="1535" y="585">K05069</text>
<rect class="b" x="1480.5" y="595" width="46" height="17"/><text class="k" x="1482" y="608.5">K15621</text>
<rect class="b" x="1480.5" y="617.5" width="46" height="17"/><text class="k" x="1482" y="631">K06571</text>
<rect class="b" x="1480.5" y="640.5" width="46" height="17"/><text class="k" x="1482" y="654">K15622</text>
<path class="d" d="M1581,579L1609.2,579" marker-end="url(#a)"/>
<text class="t" x="1613.7" y="579">Tumor cell</text><text class="t" x="1613.7" y="590">growth</text>
<path class="d" d="M1532,603.3L1573.5,603.3" marker-end="url(#a)"/>
<text class="t" x="1578" y="609.3">Proliferation</text>
<path class="d" d="M1532,626L1573.5,626" marker-end="url(#a)"/>
<text class="t" x="1578" y="626">Interactions with ECM,</text><text class="t" x="1578" y="637.3">migaration, invasion</text>
<path class="d" d="M1532,649.3L1573.5,649.3" marker-end="url(#a)"/>
<text class="t" x="1579" y="654">Proliferation, cell survival</text>

<text class="h" x="1177.7" y="645">Extraskeletal myxoid chondrosarcoma</text>
<text class="t" x="1214.2" y="663.3">t(9;22)(q22-31;q11-12)</text>
<rect class="b" x="1257.5" y="670.5" width="46" height="17"/><text class="k" x="1259" y="684">K13209</text>
<rect class="b" x="1312.5" y="670.5" width="46" height="17"/><text class="k" x="1314" y="684">K08559</text>
<path class="l" d="M1303.5,676.5h9M1303.5,681.5h9"/>
<text class="t c" x="1335.5" y="698.3">(TF)</text>
<path class="l" d="M1358.5,679L1427,679" marker-end="url(#a)"/>
<circle cx="1431.3" cy="679.3" r="4.3"/><text class="t" x="1417.4" y="672.7">DNA</text>
<path class="l" d="M1435.6,679.3L1468,679.3" marker-end="url(#a)"/>
<rect class="b" x="1480.5" y="670.5" width="46" height="17"/><text class="k" x="1482" y="684">K08530</text>
<text class="t" x="1214.2" y="701">t(9;17)(q22;q11)</text>
<rect class="b" x="1257.5" y="706.5" width="46" height="17" style="fill:#58d058"/><text class="k" x="1259" y="720">K14651</text>
<rect class="b" x="1312.5" y="706.5" width="46" height="17"/><text class="k" x="1314" y="720">K08559</text>
<path class="l" d="M1303.5,712.5h9M1303.5,717.5h9"/>
<text class="t c" x="1335.5" y="734.3">(TF)</text>
<path class="l" d="M1358.5,715L1427,715" marker-end="url(#a)"/>
<circle cx="1431.3" cy="715" r="4.3"/><text class="t" x="1417.4" y="709.3">DNA</text>
<path class="l" d="M1435.6,715L1468,715" marker-end="url(#a)"/>
<text class="t" x="1479.4" y="720">Target genes</text>

<text class="h" x="1177.7" y="736">Myxoid liposarcoma</text>
<text class="t" x="1214.2" y="751.7">t(12;16)(q13;p11)</text>
<rect class="b" x="1257.5" y="756.5" width="46" height="17" style="fill:#22e622"/><text class="k" x="1259" y="770">K13098</text>
<rect class="b" x="1312.5" y="756.5" width="46" height="17"/><text class="k" x="1314" y="770">K04452</text>
<path class="l" d="M1303.5,762.5h9M1303.5,767.5h9"/>
<text class="t c" x="1335.5" y="784.3">(TF)</text>
<path class="l" d="M1358.5,765L1387.5,765M1358.5,765L1387.5,788.5"/>
<rect class="b" x="1387.5" y="756.5" width="46" height="17"/><text class="k" x="1389" y="770">K10048</text>
<path class="l" d="M1433.5,765.7L1459,765.7" marker-end="url(#a)"/>
<circle cx="1463.3" cy="765.7" r="4.3"/><text class="t" x="1449.3" y="758.3">DNA</text>
<path class="l" d="M1467.6,765.7L1494.5,765.7" marker-end="url(#a)"/>
<rect class="b" x="1496.5" y="756.5" width="46" height="17"/><text class="k" x="1498" y="770">K05405</text>
<path class="d" d="M1543.4,765.7L1582.9,765.7" marker-end="url(#a)"/>
<text class="t" x="1587.8" y="765">Proliferation and</text><text class="t" x="1587.8" y="776">invasion?</text>
<rect class="b" x="1387.5" y="786.5" width="46" height="17"/><text class="k" x="1389" y="800">K14242</text>
<rect class="b" x="1387.5" y="803.5" width="46" height="17"/><text class="k" x="1389" y="817">K02580</text>
<text class="t c" x="1410.5" y="832.7">(TF)</text>
<text class="t" x="1214.2" y="796.7">t(12;22)(q13;q12)</text>
<rect class="b" x="1257.5" y="803.5" width="46" height="17"/><text class="k" x="1259" y="817">K13209</text>
<rect class="b" x="1312.5" y="803.5" width="46" height="17"/><text class="k" x="1314" y="817">K04452</text>
<path class="l" d="M1303.5,809.5h9M1303.5,814.5h9"/>
<text class="t c" x="1335.5" y="830">(TF)</text>
<path class="l" d="M1433.5,812.3L1460,812.3" marker-end="url(#a)"/>
<circle cx="1464.4" cy="812" r="4.3"/><text class="t" x="1453.8" y="806">DNA</text>
<path class="l" d="M1468.7,812L1494.5,812" marker-end="url(#a)"/>
<rect class="b" x="1496.5" y="803.5" width="46" height="17"/><text class="k" x="1498" y="817">K10030</text>
<path class="d" d="M1543.4,813.3L1584.8,813.3" marker-end="url(#a)"/>
<text class="t" x="1589.7" y="817.3">Proliferation</text>

<text class="h" x="1177.7" y="844">Alveolar rhabdomyosarcoma</text>
<text class="t" x="1214.2" y="858.3">t(2;13)(q35;q14)</text>
<rect class="b" x="1257.5" y="862.5" width="46" height="17"/><text class="k" x="1259" y="876">K09381</text>
<rect class="b" x="1312.5" y="862.5" width="46" height="17"/><text class="k" x="1314" y="876">K07201</text>
<path class="l" d="M1303.5,868.5h9M1303.5,873.5h9"/>
<text class="t c" x="1280.5" y="891">(TF)</text><text class="t c" x="1335.5" y="891">(TF)</text>
<path class="l" d="M1358.5,871L1427.5,871" marker-end="url(#a)"/>
<circle cx="1431.7" cy="871" r="4.3"/><text class="t" x="1422" y="864">DNA</text>
<path class="l" d="M1436,871L1478.3,871" marker-end="url(#a)"/>
<rect class="b" x="1480.5" y="862.5" width="46" height="17"/><text class="k" x="1482" y="876">K05096</text>
<path class="d" d="M1530.2,871L1584.8,871" marker-end="url(#a)"/>
<text class="t" x="1589.7" y="874.3">Angiogenesis?</text>
<text class="t" x="1214.2" y="905">t(1;13)(p36;q14)</text>
<rect class="b" x="1257.5" y="910" width="46" height="17"/><text class="k" x="1259" y="923.5">K09381</text>
<rect class="b" x="1312.5" y="910" width="46" height="17"/><text class="k" x="1314" y="923.5">K07201</text>
<path class="l" d="M1303.5,916h9M1303.5,921h9"/>
<text class="t c" x="1335.5" y="938.3">(TF)</text>

<text class="h" x="1177.7" y="939.3">Synovial sarcoma</text>
<text class="t" x="1214.2" y="955">t(X;18)(p11;q11)</text>
<rect class="b" x="1257.5" y="962.5" width="46" height="17"/><text class="k" x="1259" y="976">K15623</text>
<rect class="b" x="1312.5" y="962.5" width="46" height="17"/><text class="k" x="1314" y="976">K15624</text>
<path class="l" d="M1303.5,968.5h9M1303.5,973.5h9"/>
<path class="l" d="M1358.5,971L1418.5,971" marker-end="url(#a)"/>
<path class="l" d="M1421.1,963V978"/>
<circle cx="1432.4" cy="970.7" r="4.3"/><text class="t" x="1420" y="961.7">DNA</text>
<path class="l" d="M1436.7,970.7L1481.3,970.7" marker-end="url(#a)"/>
<rect class="b" x="1483.5" y="962.5" width="46" height="17"/><text class="k" x="1485" y="976">K15626</text>
<path class="d" d="M1533.2,967.7L1582.1,967.7" marker-end="url(#a)"/>
<text class="t" x="1586.7" y="971.7">Tumor cell growth</text>

<text class="h" x="1177.7" y="994">Alveolar soft-part sarcoma</text>
<text class="t" x="1214.2" y="1010">t(X;17)(p11.2;q25)</text>
<rect class="b" x="1257.5" y="1016.5" width="46" height="17" style="fill:#22e622"/><text class="k" x="1259" y="1030">K15627</text>
<rect class="b" x="1312.5" y="1016.5" width="46" height="17"/><text class="k" x="1314" y="1030">K09105</text>
<path class="l" d="M1303.5,1022.5h9M1303.5,1027.5h9"/>
<text class="t c" x="1335.5" y="1046.7">(TF)</text>
<path class="l" d="M1358.5,1025L1427.5,1025" marker-end="url(#a)"/>
<circle cx="1431.7" cy="1025" r="4.3"/><text class="t" x="1422" y="1018.3">DNA</text>
<path class="l" d="M1436,1025L1481.3,1025" marker-end="url(#a)"/>
<rect class="b" x="1483.5" y="1016.5" width="46" height="17"/><text class="k" x="1485" y="1030">K05099</text>
<path class="d" d="M1533.2,1023.3L1582.1,1023.3" marker-end="url(#a)"/>
<text class="t" x="1587.8" y="1017.3">Angiogenesis,</text><text class="t" x="1587.8" y="1028.3">proliferation,</text><text class="t" x="1587.8" y="1039.3">invasion, metastasis</text>

<text class="h" x="1144" y="1059">&lt;The majority of human cancers&gt;</text>
<text class="t" x="1257.5" y="1078.3">Mutation</text>
<rect class="b" x="1257.5" y="1083.5" width="46" height="17"/><text class="k" x="1259" y="1097">K04451</text>
<text class="t c" x="1280.5" y="1113.3">(TF)</text>
<path class="l" d="M1303.5,1091.7L1427.5,1091.7" marker-end="url(#a)"/>
<path class="l" d="M1354,1098L1367,1085"/>
<circle cx="1431.7" cy="1091.7" r="4.3"/><text class="t" x="1420" y="1084">DNA</text>
<path class="l" d="M1436,1091.7L1482.5,1091.7" marker-end="url(#a)"/>
<path class="l" d="M1449,1098L1462,1085"/>
<rect class="b" x="1483.5" y="1061.5" width="46" height="17"/><text class="k" x="1485" y="1075">K06625</text>
<rect class="b" x="1536" y="1061.5" width="46" height="17"/><text class="k" x="1537.5" y="1075">K04402</text>
<rect class="b" x="1483.5" y="1083.5" width="46" height="17"/><text class="k" x="1485" y="1097">K02159</text>
<rect class="b" x="1536" y="1083.5" width="46" height="17"/><text class="k" x="1537.5" y="1097">K14021</text>
<rect class="b" x="1483.5" y="1105.5" width="46" height="17" style="fill:#bfbfbf"/><rect x="1484" y="1106" width="22.5" height="16" fill="#2ee62e"/><text class="k" x="1485" y="1119">K10140</text>
<rect class="b" x="1536" y="1105.5" width="46" height="17" style="fill:#22e622"/><text class="k" x="1537.5" y="1119">K03511</text>
<text class="t" x="1593.4" y="1083.3">Uncontrolled proliferation</text>
<text class="t" x="1593.4" y="1096.7">Increased survival</text>
<text class="t" x="1593.4" y="1110">Genomic instability</text>
<rect x="1324.4" y="1107.7" width="135" height="25.6" rx="12" fill="#fff" stroke="#000"/>
<text class="t c" x="1392" y="1124.5">p53 signaling pathway</text>

<!-- color legend -->
<rect x="1482.3" y="29" width="21.8" height="28.3" fill="#22ee22"/>
<rect x="1504" y="29" width="22" height="28.3" fill="#33ee33"/>
<rect x="1526" y="29" width="21.7" height="28.3" fill="#66dd66"/>
<rect x="1547.7" y="29" width="22" height="28.3" fill="#99cc99"/>
<rect x="1569.7" y="29" width="22" height="28.3" fill="#bfbfbf"/>
<rect x="1591.7" y="29" width="22" height="28.3" fill="#bfbfbf"/>
<rect x="1613.7" y="29" width="21.6" height="28.3" fill="#cc9090"/>
<rect x="1635.3" y="29" width="22" height="28.3" fill="#dd6060"/>
<rect x="1657.3" y="29" width="21.4" height="28.3" fill="#ee3333"/>
<rect x="1678.7" y="29" width="21.3" height="28.3" fill="#ff0000"/>
<path d="M1504,29V65M1526,29V65M1547.7,29V65M1569.7,29V65M1591.7,29V65M1613.7,29V65M1635.3,29V65M1657.3,29V65M1678.7,29V65M1700,29V65" stroke="#444" stroke-width="1.3" fill="none"/>
<g style="font-family:'Liberation Sans',sans-serif;font-size:23px;fill:#222" text-anchor="middle">
<text x="1492.7" y="96">0</text><text x="1595" y="96">580</text><text x="1701.7" y="96">1159</text>
</g>
</svg>
</body></html>
